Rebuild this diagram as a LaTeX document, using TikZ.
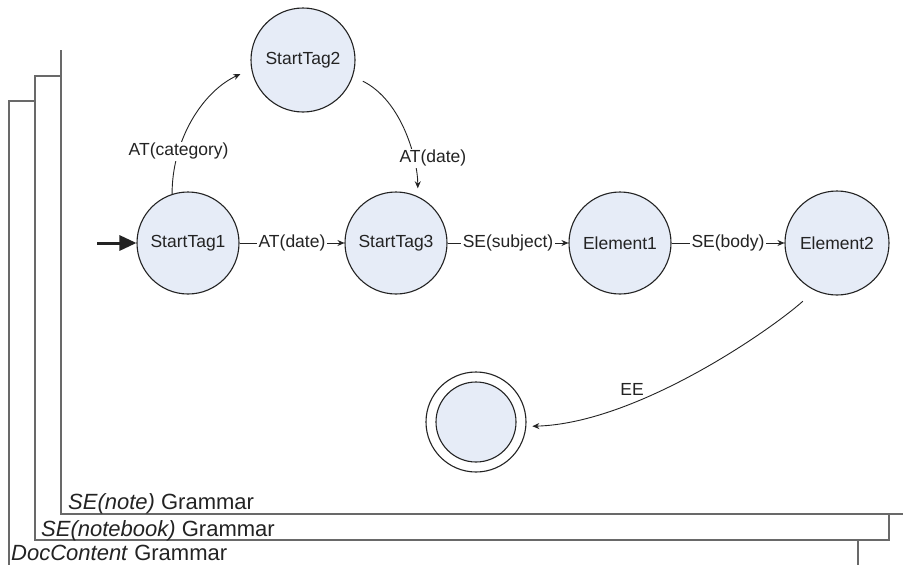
\documentclass[tikz,border=0pt]{standalone}
\usepackage{fontspec}
\setmainfont{Liberation Sans}
\usetikzlibrary{arrows.meta}
\definecolor{statefill}{RGB}{230,236,247}
\definecolor{framegray}{RGB}{105,105,105}
\definecolor{ink}{RGB}{35,35,35}

\begin{document}
\begin{tikzpicture}[x=1pt,y=-1pt,
  state/.style={circle, draw=ink, line width=1.1pt, fill=statefill,
    minimum size=102pt, inner sep=0pt, text=ink,
    font=\fontsize{17.5}{21}\selectfont},
  edge/.style={draw=ink, line width=0.9pt, -{Stealth[length=7pt,width=6pt]}},
  lbl/.style={fill=white, inner sep=1.5pt, text=ink,
    font=\fontsize{17.5}{21}\selectfont},
  frame/.style={draw=framegray, line width=1.4pt, fill=white},
  framelbl/.style={anchor=base west, inner sep=0pt, text=ink,
    font=\fontsize{22}{26}\selectfont}
]
\useasboundingbox (0,0) rectangle (903,565);
\clip (0,0) rectangle (903,565);

% stacked grammar frames, outermost first
\draw[frame] (9,101) rectangle (858,580);
\draw[frame] (35,76) rectangle (889,540);
\fill[white] (61,50) rectangle (912,514);
\draw[framegray, line width=1.4pt] (61,50) -- (61,514) -- (912,514);

\node[framelbl] (gnote)     at (68,509) {\textit{SE(note)} Grammar};
\node[framelbl] (gnotebook) at (41,536) {\textit{SE(notebook)} Grammar};
\node[framelbl] (gdoc)      at (11,560) {\textit{DocContent} Grammar};

% states
\node[state] (s1) at (188,243) {StartTag1};
\node[state, minimum size=104pt] (s2) at (303,60) {StartTag2};
\node[state] (s3) at (396,243) {StartTag3};
\node[state] (e1) at (620,243) {Element1};
\node[state, minimum size=104pt] (e2) at (837,243) {Element2};
\node[circle, draw=ink, line width=1.1pt, fill=white, minimum size=100pt] (fin) at (476,422) {};
\node[state, minimum size=80pt] (fincore) at (fin) {};

% initial arrow
\coordinate (init) at (97,243);
\draw[ink, line width=3pt, -{Triangle[length=17pt,width=15pt]}] (init) -- (s1);

% transitions
\draw[edge] (s1) -- node[lbl] (t13) {AT(date)} (s3);
\draw[edge] (s3) -- node[lbl] (t3e) {SE(subject)} (e1);
\draw[edge] (e1) -- node[lbl] (tee) {SE(body)} (e2);

\draw[edge, shorten >=12pt] (s1.108) .. controls +(0,-55) and +(-48,22) ..
  node[lbl, pos=0.27] (t12) {AT(category)} (s2.190);

\draw[edge, shorten <=11pt, shorten >=8pt] (s2.-18) .. controls +(50,25) and +(0,-35) ..
  node[lbl, pos=0.69, xshift=20pt] (t23) {AT(date)} (s3.65);

\draw[edge, shorten <=16pt, shorten >=6pt] (e2.245) .. controls +(-45,40) and +(110,-3) ..
  node[lbl, fill=none, pos=0.69, yshift=13pt] (tend) {EE} (fin.-5);
\end{tikzpicture}
\end{document}
